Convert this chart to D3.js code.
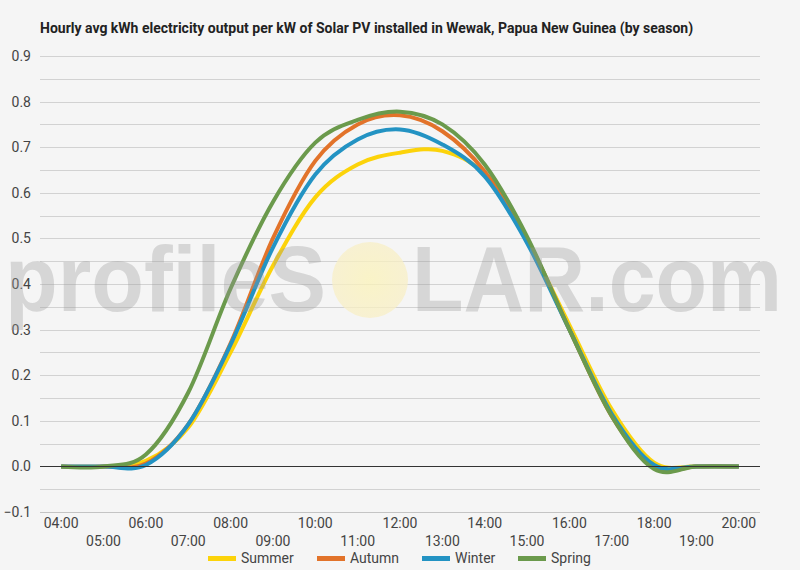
<!DOCTYPE html>
<html>
<head>
<meta charset="utf-8">
<script src="https://cdn.jsdelivr.net/npm/d3@7"></script>
<style>
  body { margin: 0; background: #f5f5f5; }
  svg { display: block; font-family: Roboto, sans-serif; }
</style>
</head>
<body>
<div id="chart"></div>
<script>
const hours = ["04:00", "05:00", "06:00", "07:00", "08:00", "09:00", "10:00", "11:00", "12:00",
    "13:00", "14:00", "15:00", "16:00", "17:00", "18:00", "19:00", "20:00"];

const summer = [0, 0, 0.012, 0.085, 0.25, 0.44, 0.59, 0.662, 0.688, 0.692, 0.64, 0.495, 0.31, 0.125, 0.008, 0, 0];
const autumn = [0, 0, 0.006, 0.092, 0.27, 0.50, 0.67, 0.75, 0.77, 0.735, 0.647, 0.50, 0.30, 0.11, -0.003, 0, 0];
const winter = [0, 0, 0.003, 0.092, 0.267, 0.48, 0.64, 0.717, 0.739, 0.706, 0.636, 0.49, 0.30, 0.115, 0.003, 0, 0];
const spring = [0, 0, 0.026, 0.162, 0.39, 0.58, 0.71, 0.76, 0.778, 0.75, 0.662, 0.504, 0.30, 0.11, -0.006, 0, 0];

const seasons = ["Summer", "Autumn", "Winter", "Spring"];
const colors = ["#fcd30a", "#e2732a", "#2393c3", "#6b9a4c"];
const yTicks = [-0.1, 0, 0.1, 0.2, 0.3, 0.4, 0.5, 0.6, 0.7, 0.8, 0.9];

const width = 800;
const height = 570;
const margin = { top: 56, right: 40, bottom: 58, left: 40 };

const svg = d3.select("#chart").append("svg")
    .attr("width", width)
    .attr("height", height)
    .style("background", "#f5f5f5");

const x = d3.scalePoint()
    .domain(hours)
    .range([margin.left, width - margin.right])
    .padding(0.5);

const y = d3.scaleLinear()
    .domain([-0.1, 0.9])
    .range([height - margin.bottom, margin.top]);

// title
svg.append("text")
    .attr("x", 40)
    .attr("y", 33)
    .style("font-size", "14px")
    .style("font-weight", "bold")
    .style("fill", "#222")
    .text("Hourly avg kWh electricity output per kW of Solar PV installed in Wewak, Papua New Guinea (by season)");

// gridlines, every 0.05
const gridVals = d3.range(-0.05, 0.91, 0.05).filter(v => Math.abs(v) > 1e-6);
svg.append("g")
    .selectAll("line")
    .data(gridVals)
    .enter().append("line")
    .attr("x1", margin.left)
    .attr("x2", width - margin.right)
    .attr("y1", d => Math.round(y(d)) + 0.5)
    .attr("y2", d => Math.round(y(d)) + 0.5)
    .style("stroke", "#d2d2d2")
    .style("stroke-width", 1);

// bottom axis line
svg.append("line")
    .attr("x1", margin.left)
    .attr("x2", width - margin.right)
    .attr("y1", Math.round(y(-0.1)) + 0.5)
    .attr("y2", Math.round(y(-0.1)) + 0.5)
    .style("stroke", "#c4c4c4");

// y labels
svg.append("g")
    .selectAll("text")
    .data(yTicks)
    .enter().append("text")
    .attr("x", 31)
    .attr("y", d => y(d) + 5)
    .attr("text-anchor", "end")
    .style("font-size", "14px")
    .style("fill", "#444")
    .text(d => d3.format(".1f")(d));

// x labels, staggered
svg.append("g")
    .selectAll("text")
    .data(hours)
    .enter().append("text")
    .attr("x", d => x(d))
    .attr("y", (d, i) => i % 2 === 0 ? 528 : 546)
    .attr("text-anchor", "middle")
    .style("font-size", "14px")
    .style("fill", "#444")
    .text(d => d);

// lines
const line = d3.line()
    .x((d, i) => x(hours[i]))
    .y(d => y(d))
    .curve(d3.curveCardinal.tension(0));

const seriesData = [summer, autumn, winter, spring];

svg.append("g")
    .selectAll("path")
    .data(seriesData)
    .enter().append("path")
    .attr("d", line)
    .style("fill", "none")
    .style("stroke", (d, i) => colors[i])
    .style("stroke-width", 4)
    .style("stroke-linejoin", "round");

// zero line
svg.append("line")
    .attr("x1", margin.left)
    .attr("x2", width - margin.right)
    .attr("y1", Math.round(y(0)) + 0.5)
    .attr("y2", Math.round(y(0)) + 0.5)
    .style("stroke", "#333")
    .style("stroke-width", 1);

// watermark
const wm = svg.append("g").style("pointer-events", "none");
const grad = svg.append("defs").append("radialGradient")
    .attr("id", "sun");
grad.append("stop").attr("offset", "0%").attr("stop-color", "#fbf3b8");
grad.append("stop").attr("offset", "100%").attr("stop-color", "#f8efc6");
wm.append("ellipse")
    .attr("cx", 370)
    .attr("cy", 280)
    .attr("rx", 38)
    .attr("ry", 38)
    .style("fill", "url(#sun)")
    .style("opacity", 0.75);
wm.append("text")
    .attr("x", 5)
    .attr("y", 311)
    .attr("textLength", 321)
    .attr("lengthAdjust", "spacingAndGlyphs")
    .style("font-family", "'Liberation Sans', Arial, sans-serif")
    .style("font-weight", "bold")
    .style("font-size", "92px")
    .style("fill", "#999")
    .style("opacity", 0.33)
    .text("profileS");
wm.append("text")
    .attr("x", 412)
    .attr("y", 311)
    .attr("textLength", 370)
    .attr("lengthAdjust", "spacingAndGlyphs")
    .style("font-family", "'Liberation Sans', Arial, sans-serif")
    .style("font-weight", "bold")
    .style("font-size", "92px")
    .style("fill", "#999")
    .style("opacity", 0.33)
    .text("LAR.com");

// legend
const legendX = [208, 317, 422, 518];
const legend = svg.append("g");
seasons.forEach((s, i) => {
    legend.append("rect")
        .attr("x", legendX[i])
        .attr("y", 556)
        .attr("width", 28)
        .attr("height", 5)
        .style("fill", colors[i]);
    legend.append("text")
        .attr("x", legendX[i] + 33)
        .attr("y", 563)
        .style("font-size", "14px")
        .style("fill", "#444")
        .text(s);
});
</script>
</body>
</html>
